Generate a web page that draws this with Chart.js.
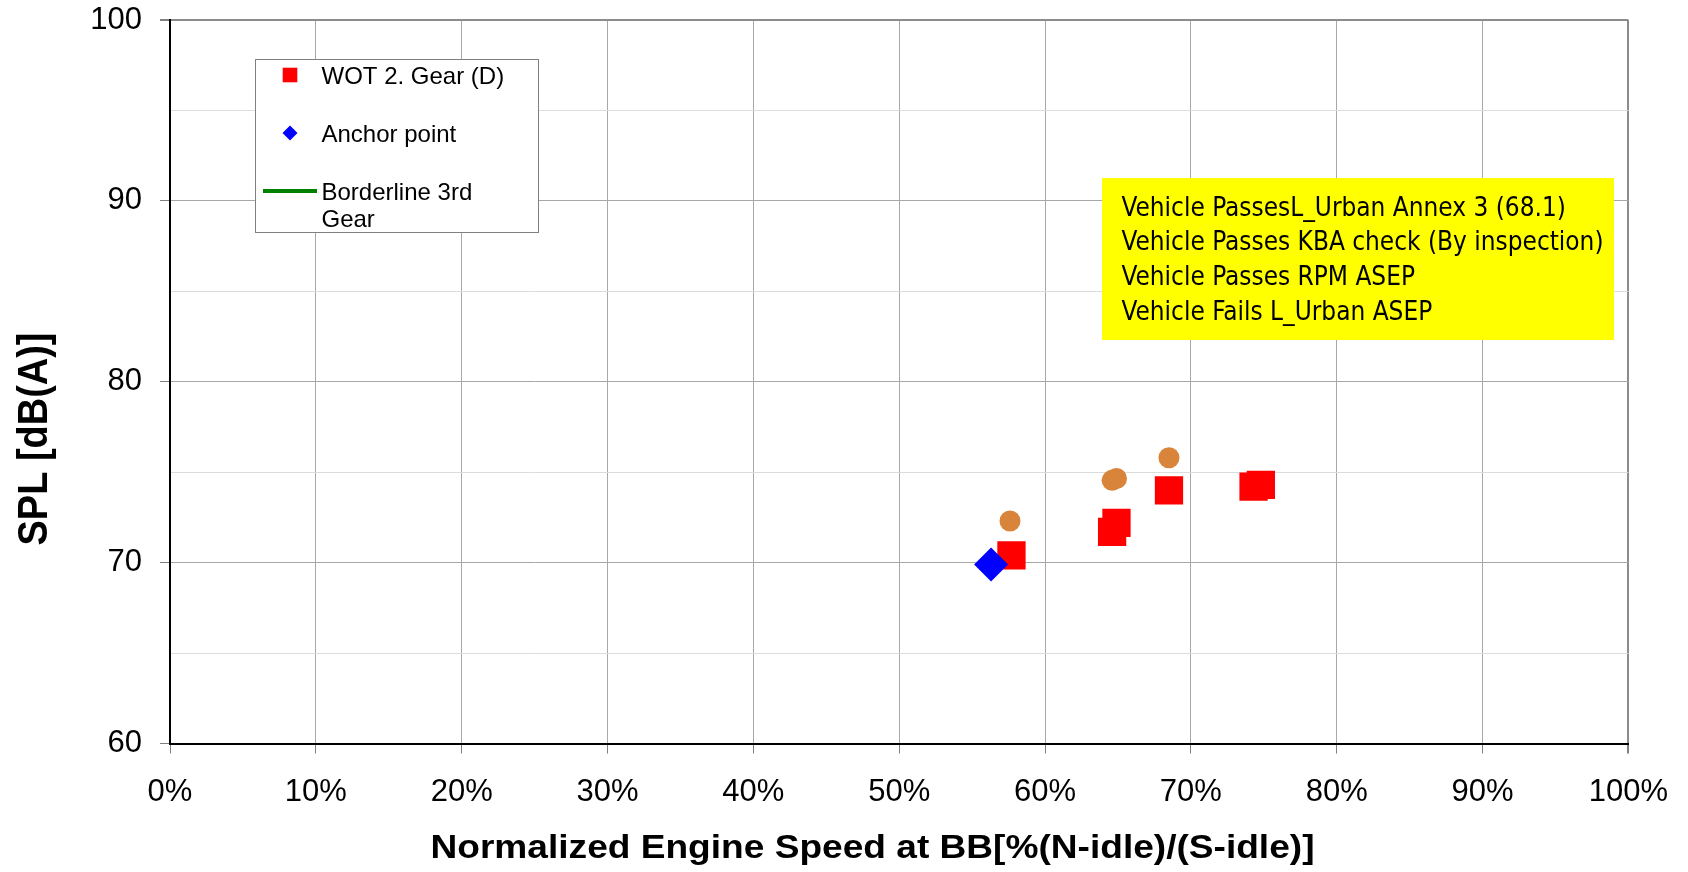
<!DOCTYPE html>
<html>
<head>
<meta charset="utf-8">
<script src="https://cdn.jsdelivr.net/npm/chart.js@4.4.0/dist/chart.umd.min.js"></script>
<style>
  html, body { margin: 0; padding: 0; background: #fff; }
  #wrap { width: 1688px; height: 872px; position: relative; }
</style>
</head>
<body>
<div id="wrap"><canvas id="splChart"></canvas></div>
<script>
// values
var wotX = [57.7, 64.6, 64.9, 68.5, 74.3, 74.8];
var wotY = [70.4, 71.7, 72.2, 74.0, 74.2, 74.3];
var anchorX = [56.3];
var anchorY = [69.9];
var urbanX = [57.6, 64.6, 64.9, 68.5];
var urbanY = [72.3, 74.55, 74.65, 75.8];
var borderX = [];
var borderY = [];

var xTicks = [0, 10, 20, 30, 40, 50, 60, 70, 80, 90, 100];
var yTicks = [60, 70, 80, 90, 100];

var xTitle = "Normalized Engine Speed at BB[%(N-idle)/(S-idle)]";
var yTitle = "SPL [dB(A)]";
var noteLines = [
  "Vehicle PassesL_Urban Annex 3 (68.1)",
  "Vehicle Passes KBA check (By inspection)",
  "Vehicle Passes RPM ASEP",
  "Vehicle Fails L_Urban ASEP"
];

var FONT = '"Liberation Sans", Arial, sans-serif';

function pts(xs, ys) {
  return xs.map(function (x, i) { return { x: x, y: ys[i] }; });
}

// legend, note box and axis titles drawn on top of the chart
var overlay = {
  id: "overlay",
  afterDraw: function (chart) {
    var ctx = chart.ctx;
    ctx.save();
    ctx.fillStyle = "#000";
    ctx.textBaseline = "alphabetic";

    // x title
    ctx.font = "bold 33px " + FONT;
    ctx.textAlign = "center";
    var w = ctx.measureText(xTitle).width;
    ctx.save();
    ctx.translate(872.5, 858);
    ctx.scale(884 / w, 1);
    ctx.fillText(xTitle, 0, 0);
    ctx.restore();

    // y title
    ctx.font = "bold 42px " + FONT;
    ctx.save();
    ctx.translate(46.5, 439);
    ctx.rotate(-Math.PI / 2);
    ctx.fillText(yTitle, 0, 0, 213);
    ctx.restore();

    // legend box
    ctx.fillStyle = "#fff";
    ctx.fillRect(256, 59, 283, 174);
    ctx.strokeStyle = "#808080";
    ctx.lineWidth = 1;
    ctx.strokeRect(255.5, 59.5, 283, 173);

    ctx.font = "24px " + FONT;
    ctx.textAlign = "left";
    var rows = [75, 133, 191];
    var r = 0;
    chart.data.datasets.forEach(function (ds) {
      if (!ds.label) return;
      var cy = rows[r++];
      var mx = 290;
      if (ds.showLine) {
        ctx.strokeStyle = ds.borderColor;
        ctx.lineWidth = 4;
        ctx.beginPath();
        ctx.moveTo(263, cy);
        ctx.lineTo(317, cy);
        ctx.stroke();
      } else if (ds.pointStyle === "rect") {
        ctx.fillStyle = ds.backgroundColor;
        ctx.fillRect(mx - 7.3, cy - 7.3, 14.6, 14.6);
      } else if (ds.pointStyle === "rectRot") {
        ctx.fillStyle = ds.backgroundColor;
        ctx.beginPath();
        ctx.moveTo(mx - 7.5, cy);
        ctx.lineTo(mx, cy - 7.5);
        ctx.lineTo(mx + 7.5, cy);
        ctx.lineTo(mx, cy + 7.5);
        ctx.closePath();
        ctx.fill();
      }
      // simple word wrap
      var words = ds.label.split(" ");
      var lines = [], cur = "";
      words.forEach(function (wd) {
        var test = cur ? cur + " " + wd : wd;
        if (ctx.measureText(test).width > 200 && cur) {
          lines.push(cur);
          cur = wd;
        } else {
          cur = test;
        }
      });
      lines.push(cur);
      ctx.fillStyle = "#000";
      lines.forEach(function (ln, k) {
        ctx.fillText(ln, 321.5, cy + 8.5 + k * 27);
      });
    });

    // yellow note
    ctx.fillStyle = "#ffff00";
    ctx.fillRect(1102, 178, 512, 162);
    ctx.fillStyle = "#000";
    ctx.font = '27px "DejaVu Sans Condensed", "DejaVu Sans", sans-serif';
    var k = 482 / ctx.measureText(noteLines[1]).width;
    noteLines.forEach(function (ln, i) {
      ctx.fillText(ln, 1121.5, 215.5 + i * 34.8, ctx.measureText(ln).width * k);
    });

    ctx.restore();
  }
};

new Chart(document.getElementById("splChart"), {
  type: "scatter",
  data: {
    datasets: [
      {
        label: "WOT 2. Gear (D)",
        data: pts(wotX, wotY),
        pointStyle: "rect",
        pointRadius: 20,
        pointHoverRadius: 20,
        backgroundColor: "#ff0000",
        borderColor: "#ff0000",
        borderWidth: 0,
        order: 1
      },
      {
        label: "Anchor point",
        data: pts(anchorX, anchorY),
        pointStyle: "rectRot",
        pointRadius: 17,
        pointHoverRadius: 17,
        backgroundColor: "#0000ff",
        borderColor: "#0000ff",
        borderWidth: 0,
        order: 0
      },
      {
        label: "Borderline 3rd Gear",
        data: pts(borderX, borderY),
        showLine: true,
        pointRadius: 0,
        borderColor: "#008000",
        backgroundColor: "#008000",
        borderWidth: 4,
        order: 3
      },
      {
        label: "",
        data: pts(urbanX, urbanY),
        pointStyle: "circle",
        pointRadius: 10.5,
        pointHoverRadius: 10.5,
        backgroundColor: "#d9843b",
        borderColor: "#d9843b",
        borderWidth: 0,
        order: 2
      }
    ]
  },
  options: {
    responsive: true,
    maintainAspectRatio: false,
    animation: false,
    layout: { padding: { top: 19.5, right: 58.5, bottom: 0, left: 0 } },
    plugins: {
      legend: { display: false },
      tooltip: { enabled: false }
    },
    scales: {
      x: {
        type: "linear",
        min: 0,
        max: 100,
        afterFit: function (s) { s.height = 128.5; },
        afterBuildTicks: function (s) {
          s.ticks = xTicks.map(function (v) { return { value: v }; });
        },
        ticks: {
          autoSkip: false,
          maxRotation: 0,
          padding: 20,
          color: "#000",
          font: { family: FONT, size: 31 },
          callback: function (v) { return v + "%"; }
        },
        grid: {
          color: function (c) { return c.tick && c.tick.value === 100 ? "#8c8c8c" : "#a8a8a8"; },
          lineWidth: function (c) { return c.tick && c.tick.value === 100 ? 2 : 1; },
          tickColor: "#808080",
          tickLength: 10
        },
        border: { color: "#000", width: 2 }
      },
      y: {
        min: 60,
        max: 100,
        afterFit: function (s) {
          s.width = 170;
          s.paddingTop = 0;
          s.paddingBottom = 0;
        },
        ticks: {
          stepSize: 5,
          autoSkip: false,
          padding: 18,
          color: "#000",
          font: { family: FONT, size: 31 },
          callback: function (v) { return yTicks.indexOf(v) >= 0 ? v : ""; }
        },
        grid: {
          color: function (c) {
            if (!c.tick) return "#a8a8a8";
            if (c.tick.value === 100) return "#8c8c8c";
            return yTicks.indexOf(c.tick.value) >= 0 ? "#a8a8a8" : "#dcdcdc";
          },
          lineWidth: function (c) { return c.tick && c.tick.value === 100 ? 2 : 1; },
          tickColor: function (c) { return c.tick && yTicks.indexOf(c.tick.value) >= 0 ? "#808080" : "rgba(0,0,0,0)"; },
          tickLength: 10
        },
        border: { color: "#000", width: 2 }
      }
    }
  },
  plugins: [overlay]
});
</script>
</body>
</html>
